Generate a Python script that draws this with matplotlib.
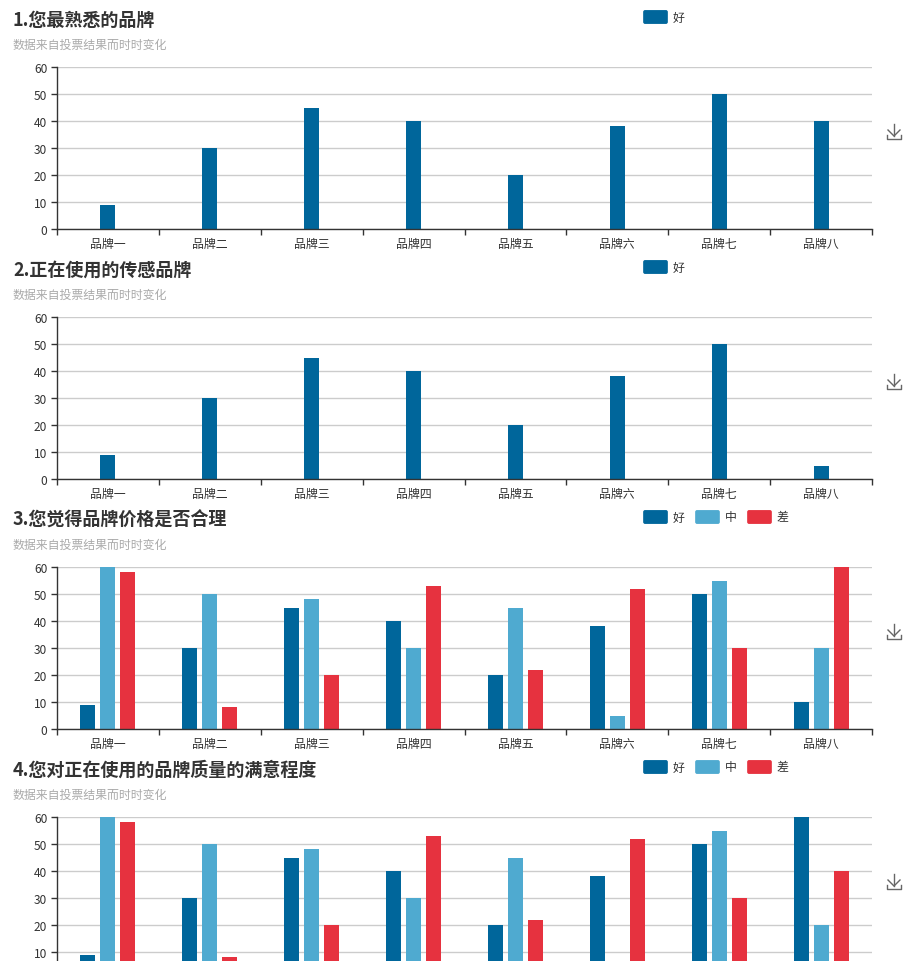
import matplotlib
matplotlib.use("Agg")
import matplotlib.pyplot as plt
from matplotlib.patches import FancyBboxPatch
from matplotlib.lines import Line2D
import numpy as np

plt.rcParams['font.family'] = ['Noto Sans CJK SC', 'DejaVu Sans']

# data
brands = ['品牌一', '品牌二', '品牌三', '品牌四', '品牌五', '品牌六', '品牌七', '品牌八']
titles = ['1.您最熟悉的品牌', '2.正在使用的传感品牌', '3.您觉得品牌价格是否合理', '4.您对正在使用的品牌质量的满意程度']
subtitle = '数据来自投票结果而时时变化'
series_names = ['好', '中', '差']
y_ticks = [0, 10, 20, 30, 40, 50, 60]

q1_good = [9, 30, 45, 40, 20, 38, 50, 40]
q2_good = [9, 30, 45, 40, 20, 38, 50, 5]
q3_good = [9, 30, 45, 40, 20, 38, 50, 10]
q3_mid = [60, 50, 48, 30, 45, 5, 55, 30]
q3_bad = [58, 8, 20, 53, 22, 52, 30, 60]
q4_good = [9, 30, 45, 40, 20, 38, 50, 60]
q4_mid = [60, 50, 48, 30, 45, 5, 55, 20]
q4_bad = [58, 8, 20, 53, 22, 52, 30, 40]

panels = [[q1_good], [q2_good], [q3_good, q3_mid, q3_bad], [q4_good, q4_mid, q4_bad]]
colors = ['#00669b', '#4faad0', '#e6323f']

W, H = 920, 962
fig = plt.figure(figsize=(W / 100, H / 100), dpi=100)
fig.patch.set_facecolor('white')

cat_w = 815 / 8.0
bw = 15 / cat_w
step = 20 / cat_w
fs = 8.6

for p, data in enumerate(panels):
    off = p * 250
    ax = fig.add_axes([57 / W, 1 - (230 + off) / H, 815 / W, 162 / H])
    x = np.arange(len(brands))
    n = len(data)
    for i, vals in enumerate(data):
        ax.bar(x + (i - (n - 1) / 2) * step, vals, width=bw, color=colors[i], zorder=3)
    ax.set_xlim(-0.5, 7.5)
    ax.set_ylim(0, 60)
    ax.set_yticks(y_ticks)
    ax.set_xticks(x)
    # last chart is cut off by the page: its bottom labels fall below the edge
    if p < 3:
        ax.set_xticklabels(brands)
    else:
        ax.set_xticklabels([])
        ax.set_yticklabels(['' if t == 0 else str(t) for t in y_ticks])
    ax.set_xticks(np.arange(-0.5, 8, 1), minor=True)
    ax.tick_params(axis='x', which='major', length=0, pad=6, labelsize=fs, labelcolor='#333333')
    ax.tick_params(axis='x', which='minor', length=4, color='#333333', width=1)
    ax.tick_params(axis='y', length=4, color='#333333', width=1, pad=3, labelsize=fs, labelcolor='#333333')
    ax.grid(axis='y', color='#cccccc', linewidth=1, zorder=0)
    for s in ['top', 'right']:
        ax.spines[s].set_visible(False)
    for s in ['left', 'bottom']:
        ax.spines[s].set_color('#333333')
        ax.spines[s].set_linewidth(1)
        ax.spines[s].set_zorder(4)

    fig.text(13 / W, 1 - (20 + off) / H, titles[p], fontsize=13, fontweight='bold',
             color='#333333', va='center', ha='left')
    fig.text(13 / W, 1 - (45 + off) / H, subtitle, fontsize=fs, color='#aaaaaa',
             va='center', ha='left')

    # legend
    for i in range(n):
        lx = 643 + i * 52
        ly = 18 + off
        fig.patches.append(FancyBboxPatch(((lx + 2) / W, 1 - (ly + 5) / H), 21 / W, 10 / H,
                                          boxstyle='round,pad=0.002', transform=fig.transFigure,
                                          facecolor=colors[i], edgecolor='none'))
        fig.text((lx + 30) / W, 1 - ly / H, series_names[i], fontsize=fs, color='#333333',
                 va='center', ha='left')

    # download icon
    ic = '#666666'
    cy = 133 + off
    def L(xs, ys):
        fig.lines.append(Line2D([v / W for v in xs], [1 - v / H for v in ys],
                                transform=fig.transFigure, color=ic, linewidth=1))
    L([894, 894], [cy - 8, cy + 4])
    L([888, 894, 900], [cy - 2, cy + 4, cy - 2])
    L([887, 887, 901, 901], [cy + 3, cy + 7, cy + 7, cy + 3])

fig.savefig('out.png', dpi=100, facecolor='white')
